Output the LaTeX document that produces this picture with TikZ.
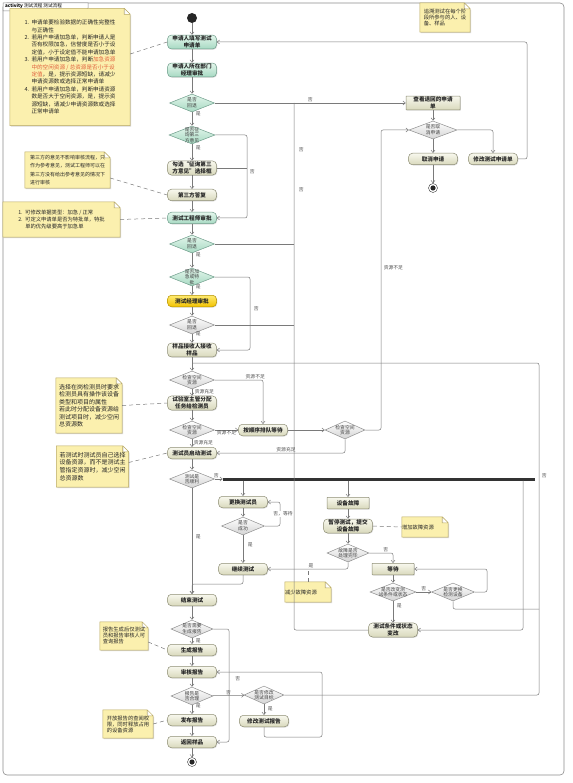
\documentclass[tikz,border=0pt]{standalone}
\usepackage{fontspec}
\setmainfont{Noto Sans CJK SC}
\usetikzlibrary{arrows.meta,calc,shapes.geometric,backgrounds,shadows}
\definecolor{lineclr}{HTML}{7A7A7A}
\definecolor{frameclr}{HTML}{8A8A8A}
\definecolor{mintA}{HTML}{E4F6EC}
\definecolor{mintB}{HTML}{A6D9C2}
\definecolor{mintline}{HTML}{6E9C8A}
\definecolor{creamA}{HTML}{F8F8EE}
\definecolor{creamB}{HTML}{D9D9BC}
\definecolor{creamline}{HTML}{8C8C74}
\definecolor{goldA}{HTML}{FFEB70}
\definecolor{goldB}{HTML}{F2C200}
\definecolor{goldline}{HTML}{B39000}
\definecolor{greyfill}{HTML}{D4D4D4}
\definecolor{greyline}{HTML}{8E8E8E}
\definecolor{notefill}{HTML}{FBF0AE}
\definecolor{noteline}{HTML}{B9A962}
\definecolor{notered}{HTML}{E0603C}

\begin{document}
\begin{tikzpicture}[x=1pt, y=-1pt, font=\fontsize{5.5}{6.5}\selectfont,
  base/.style={draw=creamline, line width=0.5pt, font=\fontsize{5.6}{6.6}\selectfont\bfseries,
    text=black!85, align=center, minimum width=49pt, minimum height=11.5pt, inner sep=1pt,
    drop shadow={shadow xshift=0.8pt, shadow yshift=-0.8pt, opacity=0.25}},
  act/.style={base, rounded corners=4pt, top color=creamA, bottom color=creamB},
  actg/.style={base, rounded corners=4pt, draw=mintline, top color=mintA, bottom color=mintB},
  acty/.style={base, rounded corners=4pt, draw=goldline, top color=goldA, bottom color=goldB},
  sig/.style={base, rounded corners=0.5pt, top color=creamA, bottom color=creamB},
  dec/.style={diamond, draw=greyline, line width=0.5pt, inner sep=0pt, minimum height=18pt,
    top color=white, bottom color=greyfill},
  decg/.style={dec, draw=mintline, top color=mintA, bottom color=mintB},
  dtxt/.style={font=\fontsize{4.8}{5.6}\selectfont, text=black!75, align=center, inner sep=0pt},
  note/.style={align=left, inner sep=0pt, text=black!85},
  notebg/.style={fill=notefill, draw=noteline, line width=0.5pt,
    drop shadow={shadow xshift=1pt, shadow yshift=-1pt, opacity=0.3}},
  startdot/.style={circle, fill=black!85, minimum size=10pt, inner sep=0pt},
  enddot/.style={circle, draw=black!80, fill=white, minimum size=9pt, inner sep=0pt,
    path picture={\fill[black!85] (path picture bounding box.center) circle (2.6pt);}},
  bar/.style={fill=black!80, inner sep=0pt, minimum height=3pt},
  flow/.style={draw=lineclr, line width=0.5pt, rounded corners=2pt,
    -{Straight Barb[length=2.5pt,width=4pt]}},
  link/.style={draw=lineclr, line width=0.5pt, rounded corners=2pt},
  dashlink/.style={draw=lineclr, line width=0.5pt, dash pattern=on 4pt off 3pt},
  tag/.style={font=\fontsize{4.8}{5.4}\selectfont, text=black!70, inner sep=0.5pt}]
  \useasboundingbox (0,0) rectangle (572,783);

  \node[anchor=west, inner sep=0pt, font=\fontsize{4.6}{5}\selectfont] (tab) at (5,6.5)
    {\textbf{activity} 测试流程 测试流程};

  % main column
  \node[startdot] (start) at (192,18) {};
  \node[actg] (apply) at (192,42) {申请人填写测试\\申请单};
  \node[actg] (mgr) at (192,70) {申请人所在部门\\经理审批};
  \node[act] (tick) at (192,168) {勾选“征询第三\\方意见”选择框};
  \node[act] (reply) at (192,195) {第三方答复};
  \node[actg] (eng) at (192,218) {测试工程师审批};
  \node[acty] (boss) at (192,301) {测试经理审批};
  \node[act] (sample) at (192,350) {样品接收人接收\\样品};
  \node[act] (assign) at (192,403) {试验室主管分配\\任务给检测员};
  \node[act] (queue) at (263,430) {按顺序排队等待};
  \node[act] (launch) at (192,453) {测试员启动测试};
  \node[bar, minimum width=312pt] (fork) at (379,479) {};
  \node[act] (swap) at (243,502) {更换测试员};
  \node[act] (resume) at (243,569) {继续测试};
  \node[act] (finish) at (192,600) {结束测试};
  \node[sig, minimum width=42pt] (fault) at (348,503) {设备故障};
  \node[act] (pause) at (348,526) {暂停测试，提交\\设备故障};
  \node[sig, minimum width=42pt] (wait) at (393,569) {等待};
  \node[act] (cond) at (393,630) {测试条件或状态\\变改};
  \node[act] (gen) at (192,650) {生成报告};
  \node[act] (review) at (192,672) {审核报告};
  \node[act] (publish) at (192,720) {发布报告};
  \node[act] (ret) at (192,742) {返回样品};
  \node[enddot] (end1) at (192,762) {};
  \node[act] (modrep) at (264,721) {修改测试报告};
  \node[sig, minimum width=54pt] (view) at (433,103) {查看退回的申请\\单};
  \node[act] (cancel) at (433,159) {取消申请};
  \node[act] (modapp) at (493,159) {修改测试申请单};
  \node[enddot] (end2) at (433,188) {};

  \foreach \nm/\p/\kind/\w/\txt in {
    back1/{192,103}/decg/45/{是否\\回退},
    third/{192,135}/decg/46/{是否征\\询第三\\方意见},
    back2/{192,244}/decg/45/{是否\\回退},
    urgent/{192,277}/decg/45/{是否加\\急或特\\批},
    back3/{192,325}/dec/45/{是否\\回退},
    chk1/{192,380}/dec/45/{检查空间\\资源},
    chk2/{192,430}/dec/45/{检查空间\\资源},
    chk3/{345,430}/dec/40/{检查空间\\资源},
    smooth/{192,479}/dec/45/{测试是\\否顺利},
    ok/{243,526}/dec/43/{是否\\成功},
    fixed/{348,553}/dec/42/{故障是否\\处理完毕},
    changed/{393,592}/dec/46/{是否改变测\\试条件或状态},
    device/{453,592}/dec/43/{是否更换\\检测设备},
    needrep/{192,629}/dec/42/{是否需要\\生成报告},
    sound/{192,696}/dec/42/{报告是\\否合理},
    modgoal/{264,695}/dec/40/{是否修改\\测试目标},
    cancelq/{433,130}/dec/48/{是否取\\消申请}} {
    \node[\kind, minimum width=\w pt] (\nm) at (\p) {};
    \node[dtxt] (\nm-t) at (\nm) {\txt};
  }

  \coordinate (r1) at (247,135);
  \coordinate (r2) at (294,103);
  \coordinate (r3) at (250,277);
  \coordinate (r4) at (381,430);
  \coordinate (r5) at (527,42);
  \coordinate (r6) at (523,479);
  \coordinate (r7) at (280,526);
  \coordinate (r9) at (487,592);
  \coordinate (r10) at (539,609);
  \coordinate (r11) at (229,629);
  \coordinate (j8) at (192,584);
  \coordinate (j12a) at (322,737);
  \coordinate (j13) at (539,363);
  \coordinate (j14) at (192,363);

  % application and approval
  \draw[flow] (start) -- (apply);
  \draw[flow] (apply) -- (mgr);
  \draw[flow] (mgr) -- (back1);
  \draw[flow] (back1) -- node[tag, pos=0.1, anchor=west, xshift=3pt] {是} (third);
  \draw[flow] (back1) -- node[tag, pos=0.5, above] {否} (view);
  \draw[flow] (third) -- node[tag, pos=0.2, anchor=west, xshift=3pt] {是} (tick);
  \draw[flow] (tick) -- (reply);
  \draw[flow] (reply) -- (eng);
  \draw[flow] (third.east) -| node[tag, pos=0.72, anchor=west, xshift=2pt] {否} (r1 |- eng.east) -- (eng.east);
  \draw[link] (tick.east) -- (tick.east -| r1);
  \draw[flow] (eng) -- (back2);
  \draw[flow] (back2) -- node[tag, pos=0.1, anchor=west, xshift=3pt] {是} (urgent);
  \draw[link] (back2.east) -- (back2.east -| r2);
  \draw[flow] (urgent) -- node[tag, pos=0.1, anchor=west, xshift=3pt] {是} (boss);
  \draw[flow] (urgent.east) -| node[tag, pos=0.72, anchor=west, xshift=3pt] {否} (r3 |- sample.east) -- (sample.east);
  \draw[flow] (boss) -- (back3);
  \draw[flow] (back3) -- node[tag, pos=0, anchor=west, xshift=3pt] {是} (sample);
  \draw[link] (back3.east) -- (back3.east -| r2);
  \draw[link] (cond.west) -| node[tag, pos=0.918, anchor=west, xshift=4pt] {否}
    node[tag, pos=0.956, anchor=west, xshift=4pt] {否} (r2);
  \draw[flow] (view) -- (cancelq);
  \draw[flow] (cancelq) -- (cancel);
  \draw[flow] (cancelq.east) -| (modapp.north);
  \draw[flow] (cancel) -- (end2);
  \draw[flow] (modapp.east) -| (r5) -- (apply.east);

  % resources
  \draw[flow] (sample) -- (chk1);
  \draw[flow] (chk1) -- node[tag, pos=0.3, anchor=west, xshift=2pt] {资源充足} (assign);
  \draw[flow] (chk1.east) -| node[tag, pos=0.42, above] {资源不足} (queue.north);
  \draw[flow] (assign) -- (chk2);
  \draw[flow] (chk2) -- node[tag, pos=0.5, below] {资源不足} (queue);
  \draw[flow] (chk2) -- node[tag, pos=0.4, anchor=west, xshift=1pt] {资源充足} (launch);
  \draw[flow] (queue) -- (chk3);
  \draw[flow] (chk3.south) |- node[tag, pos=0.73, above] {资源充足} (launch.east);
  \draw[flow] (chk3.east) -| node[tag, pos=0.77, anchor=west, xshift=2pt] {资源不足} (r4 |- cancelq.west) -- (cancelq.west);

  % testing
  \draw[flow] (launch) -- (smooth);
  \draw[flow] (smooth) -- node[tag, pos=0.2, above] {否} (fork.west);
  \draw[flow] (smooth) -- node[tag, pos=0.46, anchor=west, xshift=3pt] {是} (finish);
  \draw[flow] (swap |- fork.south) -- (swap);
  \draw[flow] (fault |- fork.south) -- (fault);
  \draw[flow] (r6 |- fork.south) |- (cond.east);
  \draw[flow] (swap) -- (ok);
  \draw[flow] (ok.east) -| node[tag, pos=0.75, fill=white, xshift=3pt] {否，等待} (r7 |- swap.east) -- (swap.east);
  \draw[flow] (ok) -- node[tag, pos=0.35, anchor=west, xshift=4pt] {是} (resume);
  \draw[flow] (resume.south) |- (j8) -- (finish.north);
  \draw[flow] (fault) -- (pause);
  \draw[flow] (pause) -- (fixed);
  \draw[flow] (fixed.south) |- node[tag, pos=0.73, above] {是} (resume.east);
  \draw[flow] (fixed.east) -| node[tag, pos=0.35, above] {否} (wait.north);
  \draw[flow] (wait) -- (changed);
  \draw[flow] (changed) -- node[tag, pos=0.2, anchor=west, xshift=3pt] {是} (cond);
  \draw[flow] (changed) -- node[tag, pos=0.5, above] {否} (device);
  \draw[flow] (device.east) -| (r9 |- wait.east) -- (wait.east);
  \draw[link] (device.south) |- (r10);

  % report
  \draw[flow] (finish) -- (needrep);
  \draw[flow] (needrep) -- node[tag, pos=0.4, anchor=west, xshift=3pt] {是} (gen);
  \draw[flow] (needrep.east) -| (r11 |- ret.east) -- (ret.east);
  \draw[flow] (gen) -- (review);
  \draw[flow] (review) -- (sound);
  \draw[flow] (sound) -- node[tag, pos=0.1, anchor=west, xshift=3pt] {是} (publish);
  \draw[flow] (publish) -- (ret);
  \draw[flow] (ret) -- (end1);
  \draw[flow] (sound) -- node[tag, pos=0.5, above] {否} (modgoal);
  \draw[flow] (modgoal) -- node[tag, pos=0.4, anchor=west, xshift=3pt] {是} (modrep);
  \draw[flow] (modrep.south) |- (j12a) |- node[tag, pos=0.9, below=4pt] {否} (review.east);
  \draw[link] (modgoal.east) -| node[tag, pos=0.83, anchor=west, xshift=2pt] {否} (j13) -- (j14);

  % notes
  \node[note, font=\fontsize{5.6}{7.4}\selectfont, minimum width=120pt, minimum height=117pt] (n1) at (70,67)
    {\makebox[7pt][l]{1.}申请单要检验数据的正确性完整性\\
     \hspace*{7pt}与正确性\\
     \makebox[7pt][l]{2.}若用户申请加急单，判断申请人是\\
     \hspace*{7pt}否有权限加急，信誉度是否小于设\\
     \hspace*{7pt}定值，小于设定值不能申请加急单\\
     \makebox[7pt][l]{3.}若用户申请加急单，判断{\color{notered}加急资源}\\
     \hspace*{7pt}{\color{notered}中的空闲资源 / 总资源是否小于设}\\
     \hspace*{7pt}{\color{notered}定值}，是，提示资源短缺，请减少\\
     \hspace*{7pt}申请资源数或选择正常申请单\\
     \makebox[7pt][l]{4.}若用户申请加急单，判断申请资源\\
     \hspace*{7pt}数是否大于空闲资源，是，提示资\\
     \hspace*{7pt}源短缺，请减少申请资源数或选择\\
     \hspace*{7pt}正常申请单};
  \node[note, font=\fontsize{5}{8.3}\selectfont, minimum width=85pt, minimum height=36pt] (n2) at (67.5,170)
    {第三方的意见不影响审核流程，只\\作为参考意见，测试工程师可以在\\第三方没有给出参考意见的情况下\\进行审核};
  \node[note, font=\fontsize{5.3}{6.8}\selectfont, minimum width=117pt, minimum height=35pt] (n3) at (61.5,219.5)
    {\makebox[7pt][l]{1.}可修改单据类型：加急 / 正常\\
     \makebox[7pt][l]{2.}可定义申请单是否为特批单，特批\\
     \hspace*{7pt}单的优先级要高于加急单};
  \node[note, font=\fontsize{6}{7.5}\selectfont, minimum width=66pt, minimum height=55pt] (n4) at (89,405.5)
    {选择在岗检测员时要求\\检测员具有操作该设备\\类型和项目的属性\\若此时分配设备资源给\\测试项目时，减少空闲\\总资源数};
  \node[note, font=\fontsize{6}{7.8}\selectfont, minimum width=72pt, minimum height=41pt] (n5) at (92.5,466.5)
    {若测试时测试员自己选择\\设备资源，而不是测试主\\管指定资源时，减少空闲\\总资源数};
  \node[note, font=\fontsize{5.3}{6}\selectfont, minimum width=48pt, minimum height=28pt] (n6) at (124,636)
    {报告生成后仅测试\\员和报告审核人可\\查询报告};
  \node[note, font=\fontsize{5.3}{6}\selectfont, minimum width=50pt, minimum height=28pt] (n7) at (128,724)
    {开放报告的查阅权\\限，同时释放占用\\的设备资源};
  \node[note, font=\fontsize{5.3}{6}\selectfont, minimum width=50pt, minimum height=29pt] (ntop) at (445,17.5)
    {追溯测试在每个阶\\段所参与的人、设\\备、样品};
  \node[note, font=\fontsize{5.3}{6}\selectfont, text width=46pt, minimum height=20pt] (n8) at (425,527)
    {增加故障资源};
  \node[note, font=\fontsize{5.3}{6}\selectfont, text width=46pt, minimum height=20pt] (n9) at (308,592)
    {减少故障资源};

  \draw[dashlink] ($(n1.east)+(0pt,13pt)$) -- (apply.west);
  \draw[dashlink] ($(n2.east)+(0pt,-8pt)$) -- (reply.west);
  \draw[dashlink] (n3.east) -- (eng.west);
  \draw[dashlink] (n4.east) -- (assign.west);
  \draw[dashlink] ($(n5.east)+(0pt,4pt)$) -- (launch.west);
  \draw[dashlink] ($(n6.east)+(0pt,-6pt)$) -- (gen.west);
  \draw[dashlink] (n7.east) -- (publish.west);
  \draw[dashlink] (pause.east) -- (n8.west);
  \draw[dashlink] (n9.north) -- (n9.north |- resume.east);

  \begin{scope}[on background layer]
    \draw[frameclr, line width=0.6pt, rounded corners=4pt] (3,3) rectangle (564,775);
    \draw[frameclr, line width=0.5pt, fill=white] (3,3) -- (88,3) -- (88,8) -- (85,11) -- (3,11) -- cycle;
    \foreach \n in {n1,n2,n3,n4,n5,n6,n7,n8,n9,ntop}
      \draw[notebg] (\n.north west) -- ($(\n.north east)+(-6pt,0pt)$) -- ($(\n.north east)+(0pt,-6pt)$)
        -- (\n.south east) -- (\n.south west) -- cycle
        ($(\n.north east)+(-6pt,0pt)$) -- ($(\n.north east)+(-6pt,-6pt)$) -- ($(\n.north east)+(0pt,-6pt)$);
  \end{scope}
\end{tikzpicture}
\end{document}
